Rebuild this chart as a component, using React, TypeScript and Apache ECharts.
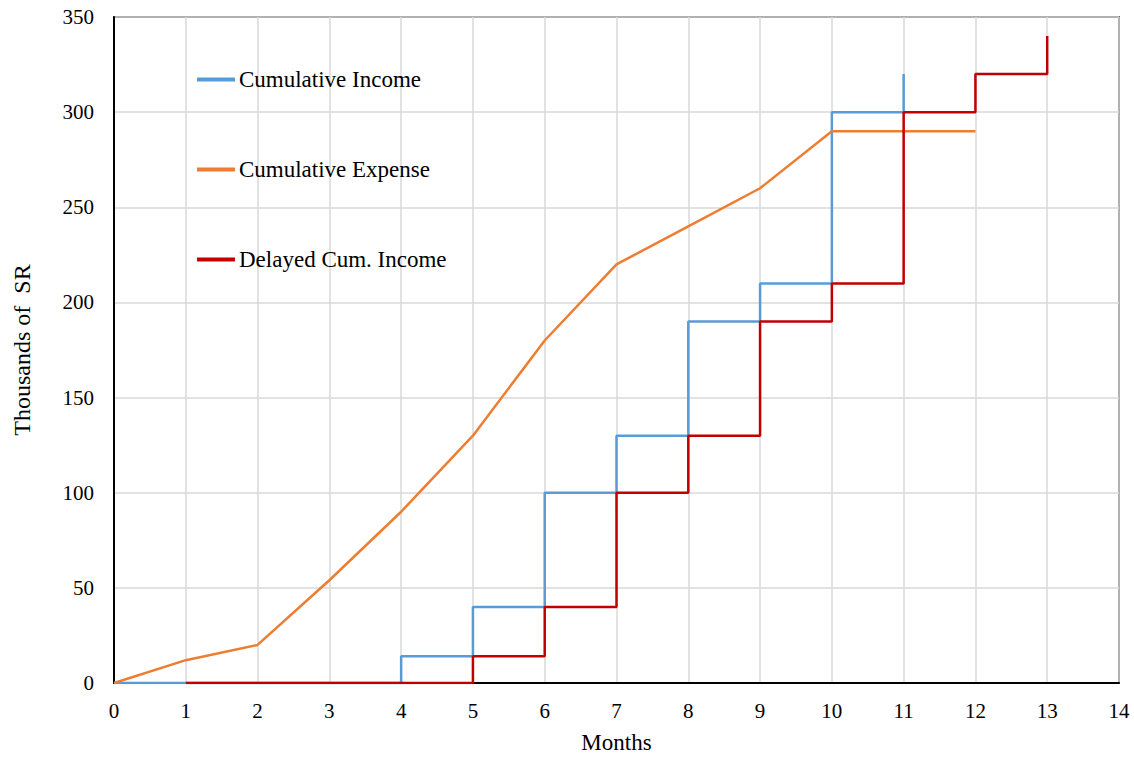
import React, { useEffect, useRef } from "react";
import * as echarts from "echarts";

// Month-by-month cumulative figures, thousands of SR
const expenseMonths = [0, 1, 2, 3, 4, 5, 6, 7, 8, 9, 10, 11, 12];
const expenseValues = [0, 12, 20, 54, 90, 130, 180, 220, 240, 260, 290, 290, 290];

const incomeMonths = [0, 1, 2, 3, 4, 5, 6, 7, 8, 9, 10, 11];
const incomeValues = [0, 0, 0, 0, 14, 40, 100, 130, 190, 210, 300, 320];

const delayedMonths = [1, 2, 3, 4, 5, 6, 7, 8, 9, 10, 11, 12, 13];
const delayedValues = [0, 0, 0, 0, 14, 40, 100, 130, 190, 210, 300, 320, 340];

const seriesNames = ["Cumulative Income", "Cumulative Expense", "Delayed Cum. Income"];

const FONT = "'Liberation Serif', 'Times New Roman', serif";

const pairs = (xs: number[], ys: number[]) => xs.map((x, i) => [x, ys[i]]);

export default function App() {
  const ref = useRef<HTMLDivElement>(null);

  useEffect(() => {
    if (!ref.current) return;
    const chart = echarts.init(ref.current, undefined, { renderer: "svg" });
    chart.setOption({
      animation: false,
      backgroundColor: "#ffffff",
      grid: {
        left: 114,
        right: 15,
        top: 17,
        bottom: 71,
        show: true,
        borderColor: "#000000",
        borderWidth: 1.5,
      },
      legend: {
        orient: "vertical",
        left: 192,
        top: 63,
        itemGap: 67,
        itemWidth: 38,
        itemHeight: 4,
        icon: "rect",
        textStyle: { fontFamily: FONT, fontSize: 23, color: "#000000", padding: [0, 0, 0, -1] },
        data: seriesNames,
      },
      xAxis: {
        type: "value",
        min: 0,
        max: 14,
        interval: 1,
        name: "Months",
        nameLocation: "middle",
        nameGap: 48,
        nameTextStyle: { fontFamily: FONT, fontSize: 23, color: "#000000" },
        axisLine: { show: true, lineStyle: { color: "#000000", width: 2 } },
        axisTick: { show: false },
        axisLabel: { fontFamily: FONT, fontSize: 21, color: "#000000", margin: 17 },
        splitLine: { show: true, lineStyle: { color: "#d9d9d9", width: 1.5 } },
      },
      yAxis: {
        type: "value",
        min: 0,
        max: 350,
        interval: 50,
        name: "Thousands of  SR",
        nameLocation: "middle",
        nameGap: 80,
        nameTextStyle: { fontFamily: FONT, fontSize: 24, color: "#000000" },
        axisLine: { show: true, lineStyle: { color: "#000000", width: 2 } },
        axisTick: { show: false },
        axisLabel: { fontFamily: FONT, fontSize: 21, color: "#000000", margin: 20 },
        splitLine: { show: true, lineStyle: { color: "#d9d9d9", width: 1.5 } },
      },
      series: [
        {
          name: seriesNames[0],
          type: "line",
          step: "end",
          showSymbol: false,
          symbol: "none",
          data: pairs(incomeMonths, incomeValues),
          itemStyle: { color: "#5B9BD5" },
          lineStyle: { color: "#5B9BD5", width: 2.5 },
          z: 2,
        },
        {
          name: seriesNames[1],
          type: "line",
          showSymbol: false,
          symbol: "none",
          data: pairs(expenseMonths, expenseValues),
          itemStyle: { color: "#ED7D31" },
          lineStyle: { color: "#ED7D31", width: 2.5 },
          z: 3,
        },
        {
          name: seriesNames[2],
          type: "line",
          step: "end",
          showSymbol: false,
          symbol: "none",
          data: pairs(delayedMonths, delayedValues),
          itemStyle: { color: "#C00000" },
          lineStyle: { color: "#C00000", width: 2.5 },
          z: 4,
        },
      ],
    });
    return () => chart.dispose();
  }, []);

  return (
    <div
      ref={ref}
      style={{ position: "fixed", left: 0, top: 0, width: 1134, height: 759 }}
    />
  );
}
